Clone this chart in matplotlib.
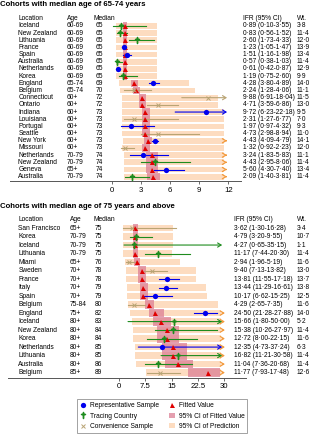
import numpy as np
import matplotlib
matplotlib.use("Agg")
import matplotlib.pyplot as plt
from matplotlib.transforms import blended_transform_factory
from matplotlib.lines import Line2D
from matplotlib.patches import Patch

plt.rcParams['font.family'] = ['Liberation Sans', 'DejaVu Sans']

# ---- cohorts with median age 65-74 ----
top_loc = ["Iceland", "New Zealand", "Lithuania", "France", "Spain", "Australia", "Netherlands",
           "Korea", "England", "Belgium", "Connecticut", "Ontario", "Indiana", "Louisiana",
           "Portugal", "Seattle", "New York", "Missouri", "Netherlands", "New Zealand",
           "Geneva", "Australia"]
top_age = ["60-69"] * 8 + ["65-74", "65-74"] + ["60+"] * 8 + ["70-79", "70-79", "65+", "70-79"]
top_med = [65] * 8 + [69, 70, 72, 72, 73, 73, 73, 73, 73, 73, 74, 74, 74, 74]
top_ifr = [0.89, 0.83, 2.60, 1.23, 1.51, 0.57, 0.61, 1.19, 4.28, 2.24, 9.88, 4.71, 9.72, 2.31,
           1.97, 4.73, 4.43, 1.32, 3.24, 4.43, 5.60, 2.09]
top_lo = [0.10, 0.56, 1.73, 1.05, 1.16, 0.38, 0.42, 0.75, 3.80, 1.28, 6.91, 3.59, 6.23, 1.27,
          0.97, 2.98, 4.09, 0.92, 1.83, 2.95, 4.30, 1.40]
top_hi = [3.55, 1.52, 4.33, 1.47, 1.98, 1.03, 0.87, 2.60, 4.89, 4.06, 18.04, 6.86, 22.18, 6.77,
          4.32, 8.94, 4.79, 2.23, 5.83, 8.06, 7.40, 3.81]
top_wt = [3.8, 11.4, 12.0, 13.9, 13.4, 11.4, 12.9, 9.9, 14.0, 11.1, 11.5, 13.0, 9.5, 7.0,
          9.3, 11.0, 14.1, 12.0, 11.1, 11.4, 13.4, 11.4]
top_kind = ["T", "T", "T", "R", "R", "T", "R", "T", "R", "C", "C", "C", "R", "C",
            "R", "C", "R", "C", "R", "T", "R", "T"]
top_fit = [1.35] * 8 + [2.3, 2.45, 3.15, 3.15, 3.45, 3.45, 3.45, 3.45, 3.7, 3.45, 4.1, 4.15, 4.1, 4.25]
top_fit_lo = [1.15] * 8 + [2.0, 2.15, 2.8, 2.8, 3.1, 3.1, 3.1, 3.1, 3.3, 3.1, 3.55, 3.55, 3.55, 3.6]
top_fit_hi = [1.55] * 8 + [2.7, 2.85, 3.55, 3.55, 3.9, 3.9, 3.9, 3.9, 4.1, 3.9, 4.8, 4.8, 4.8, 4.95]
top_pred_lo = [0.4] * 8 + [0.75, 0.82, 1.0, 1.0, 1.05, 1.05, 1.05, 1.05, 1.1, 1.05, 1.2, 1.2, 1.2, 1.25]
top_pred_hi = [4.6] * 8 + [7.95, 8.55, 10.9, 10.9, 11.6, 11.6, 11.6, 11.6, 12.5, 11.6, 13.5, 13.5, 13.5, 13.5]
top_ticks = [0, 3, 6, 9, 12]

# ---- cohorts with median age 75 and above ----
bot_loc = ["San Francisco", "Korea", "Iceland", "Lithuania", "Miami", "Sweden", "France", "Italy",
           "Spain", "Belgium", "England", "Iceland", "New Zealand", "Korea", "Netherlands",
           "Lithuania", "Australia", "Belgium"]
bot_age = ["65+", "70-79", "70-79", "70-79", "65+", "70+", "70+", "70+", "70+", "75-84", "75+",
           "80+", "80+", "80+", "80+", "80+", "80+", "85+"]
bot_med = [75, 75, 75, 75, 76, 78, 78, 79, 79, 80, 82, 83, 84, 84, 85, 85, 86, 89]
bot_ifr = [3.62, 4.79, 4.27, 11.17, 2.94, 9.40, 13.81, 13.44, 10.17, 4.29, 24.50, 15.66, 15.38,
           12.72, 12.35, 16.82, 11.04, 11.77]
bot_lo = [1.30, 3.20, 0.65, 7.44, 1.96, 7.13, 11.55, 11.29, 6.62, 2.65, 21.28, 1.80, 10.26,
          8.00, 4.73, 11.21, 7.36, 7.93]
bot_hi = [16.28, 9.55, 35.15, 20.30, 5.19, 13.82, 17.18, 16.61, 15.25, 7.35, 27.88, 50.00, 27.97,
          22.15, 37.24, 30.58, 20.68, 17.48]
bot_wt = [3.4, 10.7, 1.1, 11.4, 11.6, 13.0, 13.7, 13.8, 12.5, 11.6, 14.0, 5.2, 11.4, 11.6, 6.3,
          11.4, 11.4, 12.6]
bot_kind = ["C", "T", "T", "T", "C", "C", "R", "R", "R", "C", "R", "T", "T", "T", "R", "T", "T", "C"]
bot_fit = [4.6, 4.6, 4.6, 4.5, 5.2, 6.5, 6.5, 7.0, 7.0, 8.5, 10.4, 12.0, 13.6, 13.6, 15.3, 15.5, 16.7, 25.4]
bot_fit_lo = [3.9, 3.9, 3.9, 3.9, 4.4, 5.5, 5.5, 5.9, 5.9, 7.3, 8.5, 9.8, 10.9, 10.9, 12.2, 12.2, 13.1, 19.7]
bot_fit_hi = [5.4, 5.4, 5.4, 5.3, 6.1, 7.6, 7.6, 8.2, 8.2, 9.9, 12.8, 14.7, 17.0, 17.0, 19.3, 19.5, 21.0, 28.8]
bot_pred_lo = [1.2, 1.2, 1.2, 1.2, 1.7, 2.0, 2.0, 2.2, 2.2, 2.6, 3.1, 3.6, 4.1, 4.1, 4.7, 4.7, 5.0, 7.6]
bot_pred_hi = [15.3, 15.3, 15.3, 15.0, 17.4, 22.0, 22.0, 24.8, 25.0, 28.3, 32, 36, 42, 42, 48, 48, 55, 85]
bot_ticks = [0, 7.5, 15, 22.5, 30]

kind_color = {"R": "#0000ee", "T": "#1e8c1e", "C": "#b9a474"}
PRED = "#fddcc0"
PINK = "#dc7f95"
ARROW = "#f39a3c"
W, H = 322, 440


def fmt(v):
    return f"{v:.2f}".replace(".", "\u00b7")


def fmt1(v):
    return f"{v:.1f}".replace(".", "\u00b7")


def panel(ax, title, loc, age, med, ifr, lo, hi, wt, kind, fit, flo, fhi, plo, phi,
          ticks, cap, band_end, xlim, cols, title_y):
    n = len(loc)
    rows = np.arange(1, n + 1)
    ax.set_xlim(*xlim)
    for i, r in enumerate(rows):
        end = min(phi[i], band_end)
        ax.barh(r, end - plo[i], left=plo[i], height=0.8, color=PRED, zorder=1)
        if phi[i] > band_end:
            ax.annotate("", xy=(cap, r), xytext=(band_end - 0.02 * (cap - xlim[0]) * 0.3, r),
                        arrowprops=dict(arrowstyle="->,head_length=0.25,head_width=0.15",
                                        color=ARROW, lw=0.9), zorder=2)
        ax.barh(r, fhi[i] - flo[i], left=flo[i], height=1.0, color=PINK, alpha=0.75, zorder=2)
        c = kind_color[kind[i]]
        if hi[i] > cap:
            ax.annotate("", xy=(cap, r), xytext=(lo[i], r),
                        arrowprops=dict(arrowstyle="->,head_length=0.25,head_width=0.15",
                                        color=c, lw=0.8), zorder=3)
        else:
            ax.plot([lo[i], hi[i]], [r, r], color=c, lw=0.8, zorder=3)
        ax.plot(fit[i], r, marker="^", color="#e00000", ms=3.6, mew=0, zorder=4)
        if kind[i] == "R":
            ax.plot(ifr[i], r, marker="o", color=c, ms=3.8, mew=0, zorder=5)
        elif kind[i] == "T":
            ax.plot(ifr[i], r, marker=r"$\dagger$", color=c, ms=4.2, zorder=5)
        else:
            ax.plot(ifr[i], r, marker="x", color=c, ms=3, mew=0.7, zorder=5)

    ax.set_ylim(n + 0.6, -0.65)
    ax.set_yticks([])
    for s in ["top", "right", "left"]:
        ax.spines[s].set_visible(False)
    ax.spines["bottom"].set_color("#555555")
    ax.spines["bottom"].set_linewidth(0.7)
    ax.set_xticks(ticks)
    ax.set_xticklabels([f"{t:g}" for t in ticks], fontsize=5.6)
    ax.tick_params(axis="x", length=2.5, width=0.6, pad=1.5, color="#555555")

    tr = blended_transform_factory(ax.figure.transFigure, ax.transData)
    xl, xa, xm, xmv, xi, xw = [c / W for c in cols]
    fs = 4.8
    hdr = dict(fontsize=fs, va="center", transform=tr)
    ax.text(xl, 0, "Location", **hdr)
    ax.text(xa, 0, "Age", **hdr)
    ax.text(xm, 0, "Median", **hdr)
    ax.text(xi, 0, "IFR (95% CI)", **hdr)
    ax.text(xw, 0, "Wt.", **hdr)
    for i, r in enumerate(rows):
        ax.text(xl, r, loc[i], **hdr)
        ax.text(xa, r, age[i], **hdr)
        ax.text(xmv, r, str(med[i]), **hdr)
        ax.text(xi, r, f"{fmt(ifr[i])} ({fmt(lo[i])}-{fmt(hi[i])})", **hdr)
        ax.text(xw, r, fmt1(wt[i]), **hdr)
    ax.figure.text(0.0, 1 - title_y / H, title, fontsize=5.6, fontweight="bold",
                   va="center", ha="left")


fig = plt.figure(figsize=(W / 100, H / 100), dpi=100)
ax1 = fig.add_axes([10 / W, 1 - 181 / H, 231 / W, 167 / H])
ax2 = fig.add_axes([8 / W, 1 - 377.7 / H, 238 / W, 163.7 / H])

panel(ax1, "Cohorts with median age of 65-74 years", top_loc, top_age, top_med, top_ifr,
      top_lo, top_hi, top_wt, top_kind, top_fit, top_fit_lo, top_fit_hi, top_pred_lo,
      top_pred_hi, top_ticks, 12.15, 11.6, (-10.5, 13.3),
      (18.3, 66.7, 93.3, 95.5, 242.7, 297), 5)
panel(ax2, "Cohorts with median age of 75 years and above", bot_loc, bot_age, bot_med,
      bot_ifr, bot_lo, bot_hi, bot_wt, bot_kind, bot_fit, bot_fit_lo, bot_fit_hi,
      bot_pred_lo, bot_pred_hi, bot_ticks, 30.2, 29.0, (-31.6, 36.2),
      (18.3, 70, 93.3, 95, 233.7, 297), 206.7)

# legend fills column by column
handles = [
    Line2D([], [], ls="", marker="o", color=kind_color["R"], ms=3.8, mew=0, label="Representative Sample"),
    Line2D([], [], ls="", marker=r"$\dagger$", color=kind_color["T"], ms=4.2, label="Tracing Country"),
    Line2D([], [], ls="", marker="x", color=kind_color["C"], ms=3, mew=0.7, label="Convenience Sample"),
    Line2D([], [], ls="", marker="^", color="#e00000", ms=3.6, mew=0, label="Fitted Value"),
    Patch(facecolor=PINK, alpha=0.75, label="95% CI of Fitted Value"),
    Patch(facecolor=PRED, label="95% CI of Prediction"),
]
leg = fig.legend(handles=handles, ncol=2, loc="upper left", bbox_to_anchor=(74 / W, 1 - 396 / H),
                 fontsize=4.8, frameon=True, fancybox=False, edgecolor="#777777",
                 handlelength=0.9, handleheight=0.7, handletextpad=0.5, columnspacing=1.6,
                 labelspacing=0.5, borderpad=0.45)
leg.get_frame().set_linewidth(0.6)

fig.savefig("out.png", dpi=100)
